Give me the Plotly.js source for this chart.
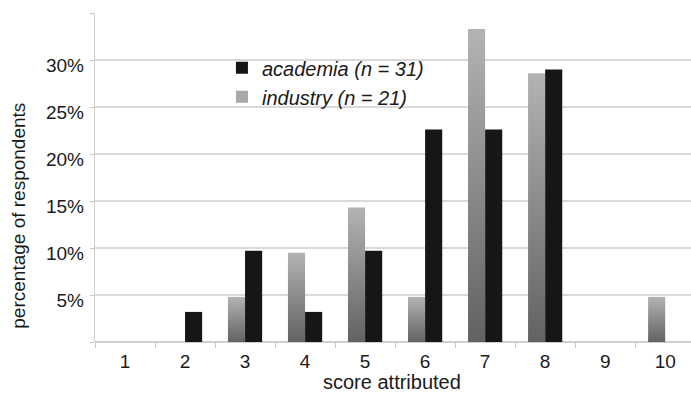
<!DOCTYPE html>
<html>
<head>
<meta charset="utf-8">
<script src="https://cdn.plot.ly/plotly-3.0.1.min.js"></script>
<style>html,body{margin:0;padding:0;background:#fff;}#chart{width:691px;height:395px;}</style>
</head>
<body>
<div id="chart"></div>
<script>
const scores = ['1','2','3','4','5','6','7','8','9','10'];
const industry = [0, 0, 4.8, 9.5, 14.3, 4.8, 33.3, 28.6, 0, 4.8];
const academia = [0, 3.2, 9.7, 3.2, 9.7, 22.6, 22.6, 29.0, 0, 0];
const yGridVals = [0, 5, 10, 15, 20, 25, 30, 35];
const yTickVals = [5, 10, 15, 20, 25, 30];
const yTickText = ['5%', '10%', '15%', '20%', '25%', '30%'];
const nameIndustry = '<i>industry (n = 21)</i>';
const nameAcademia = '<i>academia (n = 31)</i>';
const xTitle = 'score attributed';
const yTitle = 'percentage of respondents';

const FONT = 'Liberation Sans, Arial, sans-serif';
const traces = [
  {type:'bar', x:scores, y:industry, name:nameIndustry,
   marker:{color:'#a9a9a9', line:{width:0}}},
  {type:'bar', x:scores, y:academia, name:nameAcademia,
   marker:{color:'#161616', line:{width:0}}},
  // invisible helper trace so the label axis is drawn
  {type:'scatter', x:scores, y:academia, yaxis:'y2', mode:'none', showlegend:false, hoverinfo:'skip'}
];
const layout = {
  width:691, height:395,
  margin:{l:95, r:0, t:13, b:53},
  paper_bgcolor:'#fff', plot_bgcolor:'#fff',
  font:{family:FONT, size:19, color:'#1a1a1a'},
  barmode:'group', bargap:0.43, bargroupgap:0,
  showlegend:true,
  legend:{traceorder:'reversed', x:0.213, y:0.893, xanchor:'left', yanchor:'top',
          bgcolor:'rgba(0,0,0,0)', font:{family:FONT, size:20, color:'#1a1a1a'}, itemwidth:30},
  xaxis:{type:'category', range:[-0.5, 9.43], tickson:'boundaries', ticks:'outside',
         ticklen:5, tickcolor:'#c8c8c8', showgrid:false, showline:false, zeroline:false,
         ticklabelstandoff:6, tickfont:{size:19}},
  yaxis:{range:[0, 35], tickvals:yGridVals, showticklabels:false, ticks:'outside', ticklen:4,
         tickcolor:'#c8c8c8', showgrid:true, gridcolor:'#d9d9d9', gridwidth:1.5,
         zeroline:true, zerolinecolor:'#cfcfcf', zerolinewidth:1.5,
         showline:true, linecolor:'#d0d0d0', linewidth:1.5, fixedrange:true},
  yaxis2:{overlaying:'y', side:'left', range:[0.55, 35.55], tickvals:yTickVals, ticktext:yTickText,
          showgrid:false, zeroline:false, showline:false, ticks:'', ticklabelstandoff:10,
          tickfont:{size:19}, fixedrange:true},
  annotations:[
    {text:yTitle, xref:'paper', yref:'paper',
     x:-0.128, y:0.383, xanchor:'center', yanchor:'middle', textangle:-90, showarrow:false,
     font:{family:FONT, size:19, color:'#1a1a1a'}},
    {text:xTitle, xref:'paper', yref:'paper',
     x:0.498, y:-0.121, xanchor:'center', yanchor:'middle', showarrow:false,
     font:{family:FONT, size:20, color:'#1a1a1a'}}
  ]
};
Plotly.newPlot('chart', traces, layout, {displayModeBar:false, staticPlot:true}).then(function(gd){
  const svg = gd.querySelector('svg.main-svg');
  const ns = 'http://www.w3.org/2000/svg';
  let defs = svg.querySelector('defs');
  const grad = document.createElementNS(ns, 'linearGradient');
  grad.setAttribute('id', 'indGrad');
  grad.setAttribute('x1', '0'); grad.setAttribute('y1', '0');
  grad.setAttribute('x2', '0'); grad.setAttribute('y2', '1');
  [['0%','#b3b3b3'],['100%','#626262']].forEach(function(s){
    const st = document.createElementNS(ns, 'stop');
    st.setAttribute('offset', s[0]); st.setAttribute('stop-color', s[1]);
    grad.appendChild(st);
  });
  defs.appendChild(grad);
  const tr = gd.querySelectorAll('.barlayer .trace')[0];
  if (tr) tr.querySelectorAll('path').forEach(function(p){ p.style.fill = 'url(#indGrad)'; });
});
</script>
</body>
</html>
